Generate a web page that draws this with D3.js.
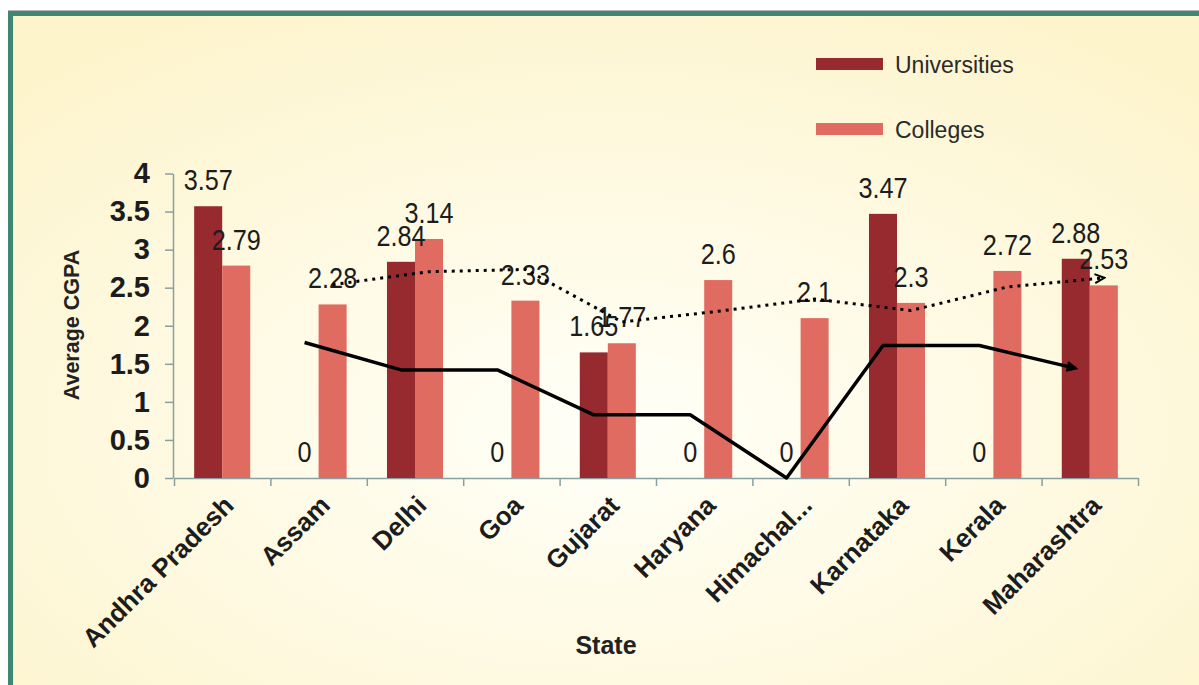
<!DOCTYPE html>
<html>
<head>
<meta charset="utf-8">
<script src="https://cdn.jsdelivr.net/npm/d3@7"></script>
<style>
  html, body { margin: 0; padding: 0; background: #ffffff; }
  svg { display: block; }
</style>
</head>
<body>
<svg id="chart" width="1199" height="685"></svg>
<script>
// ---- Data ----
const states = ["Andhra Pradesh", "Assam", "Delhi", "Goa", "Gujarat", "Haryana", "Himachal...", "Karnataka", "Kerala", "Maharashtra"];
const seriesNames = ["Universities", "Colleges"];
const universities = [3.57, 0, 2.84, 0, 1.65, 0, 0, 3.47, 0, 2.88];
const colleges = [2.79, 2.28, 3.14, 2.33, 1.77, 2.6, 2.1, 2.3, 2.72, 2.53];
// 2-period moving-average trend lines as drawn in the picture (first state has none)
const trendUniversities = [null, 1.78, 1.42, 1.42, 0.83, 0.83, 0, 1.74, 1.74, 1.44];
const trendColleges = [null, 2.54, 2.71, 2.74, 2.05, 2.19, 2.35, 2.2, 2.51, 2.63];
const yTicks = [0, 0.5, 1, 1.5, 2, 2.5, 3, 3.5, 4];
const yTitle = "Average CGPA";
const xTitle = "State";

// ---- Styles ----
const colors = { Universities: "#972a2e", Colleges: "#e06b61" };
const axisColor = "#8a9f9f";
const textColor = "#1c1c1c";

const svg = d3.select("#chart");
const W = 1199, H = 685;

// background + frame
const defs = svg.append("defs");
const grad = defs.append("radialGradient").attr("id", "bg")
  .attr("cx", "50%").attr("cy", "62%").attr("r", "72%");
grad.append("stop").attr("offset", "0%").attr("stop-color", "#fffff8");
grad.append("stop").attr("offset", "100%").attr("stop-color", "#fdf4cc");

svg.append("rect").attr("x", 13).attr("y", 16).attr("width", W - 13).attr("height", H - 16).attr("fill", "url(#bg)");
svg.append("line").attr("x1", 8).attr("x2", W).attr("y1", 10.5).attr("y2", 10.5).attr("stroke", "#b8b8b8").attr("stroke-width", 1);
svg.append("rect").attr("x", 8).attr("y", 11).attr("width", W - 8).attr("height", 5).attr("fill", "#3f8673");
svg.append("rect").attr("x", 8).attr("y", 11).attr("width", 5).attr("height", H - 11).attr("fill", "#3f8673");

// markers
const mk = (id, filled) => {
  const m = defs.append("marker").attr("id", id)
    .attr("viewBox", "0 0 12 12").attr("refX", 10).attr("refY", 6)
    .attr("markerWidth", 12).attr("markerHeight", 12)
    .attr("markerUnits", "userSpaceOnUse").attr("orient", "auto");
  m.append("path").attr("d", "M1,1.5 L10.5,6 L1,10.5")
    .attr("fill", filled ? "#000" : "none").attr("stroke", "#000").attr("stroke-width", 2)
    .attr("stroke-linejoin", "miter");
};
mk("arrowSolid", true);
mk("arrowDot", false);

// ---- Scales ----
const x = d3.scaleBand().domain(states).range([174, 1138]).paddingInner(0).paddingOuter(0);
const xSub = d3.scaleBand().domain(seriesNames).range([0, x.bandwidth()]).paddingInner(0).paddingOuter(0.72);
const y = d3.scaleLinear().domain([0, 4]).range([478, 173.5]);

// ---- Y axis ----
const yAxis = svg.append("g").attr("transform", "translate(173,0)")
  .call(d3.axisLeft(y).tickValues(yTicks).tickSize(8).tickPadding(15).tickSizeOuter(0).tickFormat(d3.format("")));
yAxis.select(".domain").attr("stroke", axisColor).attr("stroke-width", 1.5);
yAxis.selectAll(".tick line").attr("stroke", axisColor).attr("stroke-width", 1.5);
yAxis.selectAll(".tick text")
  .attr("font-family", "'Liberation Sans', Arial, sans-serif")
  .attr("font-weight", "bold").attr("font-size", 29).attr("fill", textColor);

// ---- X axis (ticks on category boundaries) ----
const xBound = d3.scaleLinear().domain([0, states.length]).range(x.range());
const xAxis = svg.append("g").attr("transform", "translate(0,478)")
  .call(d3.axisBottom(xBound).ticks(states.length).tickSize(8).tickSizeOuter(0).tickFormat(""));
xAxis.select(".domain").attr("stroke", axisColor).attr("stroke-width", 1.5);
xAxis.selectAll(".tick line").attr("stroke", axisColor).attr("stroke-width", 1.5);

// category labels
svg.append("g").selectAll("text").data(states).join("text")
  .attr("transform", d => `translate(${x(d) + x.bandwidth() / 2 + 13},507) rotate(-45)`)
  .attr("text-anchor", "end")
  .attr("font-family", "'Liberation Sans', Arial, sans-serif")
  .attr("font-weight", "bold").attr("font-size", 26).attr("fill", textColor)
  .text(d => d);

// axis titles
svg.append("text").attr("transform", "translate(79,325) rotate(-90)")
  .attr("text-anchor", "middle")
  .attr("font-family", "'Liberation Sans', Arial, sans-serif")
  .attr("font-weight", "bold").attr("font-size", 21.5).attr("fill", "#222")
  .text(yTitle);
svg.append("text").attr("x", 606).attr("y", 654)
  .attr("text-anchor", "middle")
  .attr("font-family", "'Liberation Sans', Arial, sans-serif")
  .attr("font-weight", "bold").attr("font-size", 25).attr("fill", "#222")
  .text(xTitle);

// ---- Bars ----
const rows = states.map((s, i) => ({ state: s, Universities: universities[i], Colleges: colleges[i] }));
const groups = svg.append("g").selectAll("g").data(rows).join("g")
  .attr("transform", d => `translate(${x(d.state)},0)`);
groups.selectAll("rect").data(d => seriesNames.map(k => ({ key: k, value: d[k] }))).join("rect")
  .attr("x", d => xSub(d.key))
  .attr("width", xSub.bandwidth())
  .attr("y", d => y(d.value))
  .attr("height", d => y(0) - y(d.value))
  .attr("fill", d => colors[d.key]);

// value labels
groups.selectAll("text").data(d => seriesNames.map(k => ({ key: k, value: d[k] }))).join("text")
  .attr("transform", d => `translate(${xSub(d.key) + xSub.bandwidth() / 2},${y(d.value) - 16}) scale(0.87,1)`)
  .attr("text-anchor", "middle")
  .attr("font-family", "'Liberation Sans', Arial, sans-serif")
  .attr("font-size", 29).attr("fill", textColor)
  .text(d => d3.format("")(d.value));

// ---- Trend lines ----
const line = d3.line().defined(d => d.v !== null).x(d => d.x).y(d => y(d.v));
const ptsU = states.map((s, i) => ({ x: x(s) + xSub("Universities") + xSub.bandwidth() / 2, v: trendUniversities[i] })).filter(d => d.v !== null);
const ptsC = states.map((s, i) => ({ x: x(s) + xSub("Colleges") + xSub.bandwidth() / 2, v: trendColleges[i] })).filter(d => d.v !== null);

svg.append("path").datum(ptsU).attr("d", line)
  .attr("fill", "none").attr("stroke", "#000").attr("stroke-width", 3.5)
  .attr("stroke-linejoin", "round").attr("marker-end", "url(#arrowSolid)");
svg.append("path").datum(ptsC).attr("d", line)
  .attr("fill", "none").attr("stroke", "#000").attr("stroke-width", 3)
  .attr("stroke-dasharray", "3,5").attr("marker-end", "url(#arrowDot)");

// ---- Legend ----
const legend = svg.append("g");
seriesNames.forEach((k, i) => {
  const yy = 58 + i * 65;
  legend.append("rect").attr("x", 816).attr("y", yy).attr("width", 67).attr("height", 12).attr("fill", colors[k]);
  legend.append("text").attr("x", 895).attr("y", yy + 15)
    .attr("font-family", "'Liberation Sans', Arial, sans-serif")
    .attr("font-size", 23).attr("fill", "#2a2a2a").text(k);
});
</script>
</body>
</html>
